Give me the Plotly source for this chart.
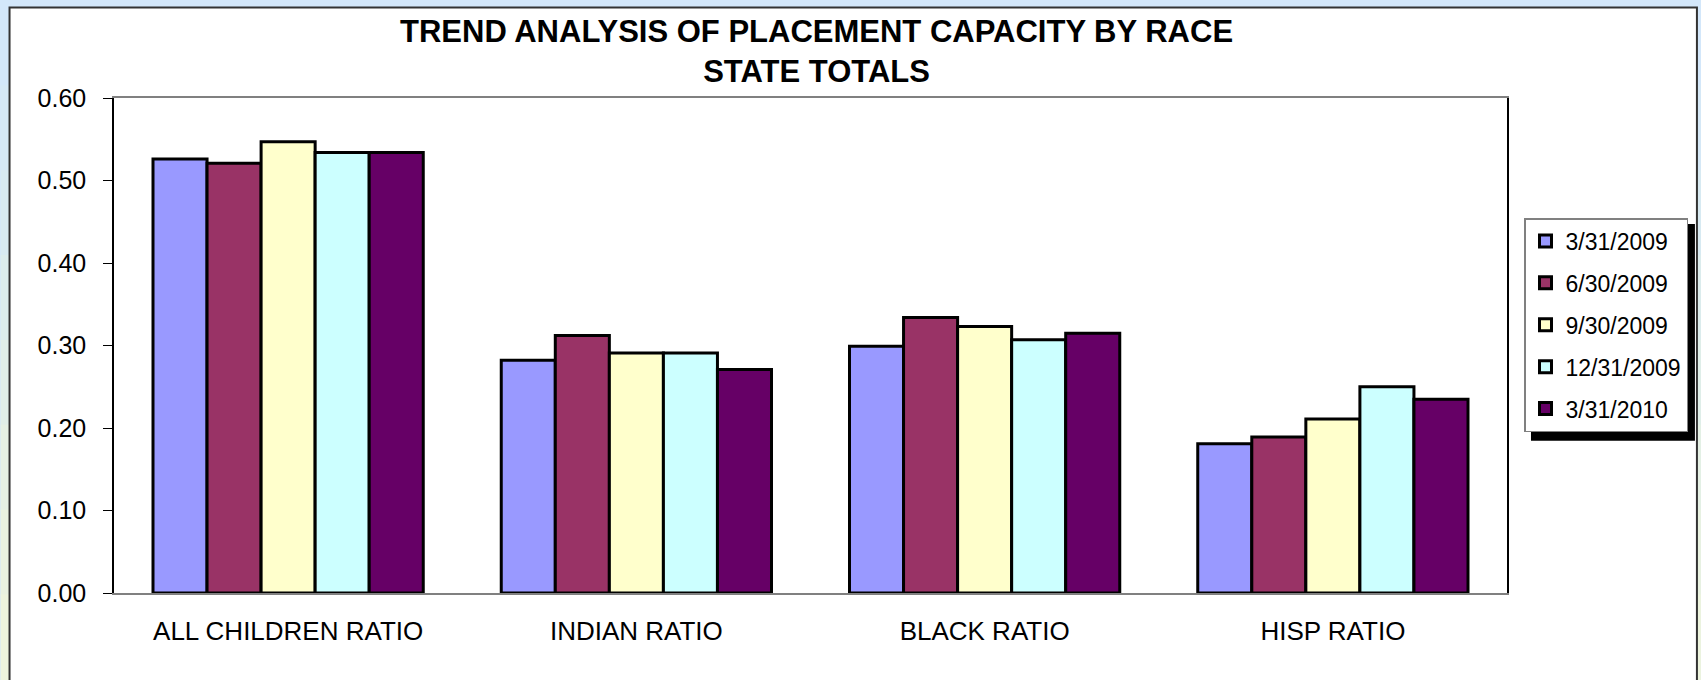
import plotly.graph_objects as go

categories = ["ALL CHILDREN RATIO", "INDIAN RATIO", "BLACK RATIO", "HISP RATIO"]
series_names = ["3/31/2009", "6/30/2009", "9/30/2009", "12/31/2009", "3/31/2010"]
s_2009_03 = [0.526, 0.282, 0.299, 0.181]
s_2009_06 = [0.521, 0.312, 0.334, 0.189]
s_2009_09 = [0.547, 0.291, 0.323, 0.211]
s_2009_12 = [0.534, 0.291, 0.307, 0.250]
s_2010_03 = [0.534, 0.271, 0.315, 0.235]
series_values = [s_2009_03, s_2009_06, s_2009_09, s_2009_12, s_2010_03]
colors = ["#9999FF", "#993366", "#FFFFCC", "#CCFFFF", "#660066"]
y_ticks = [0.0, 0.1, 0.2, 0.3, 0.4, 0.5, 0.6]
y_tick_labels = ["0.00", "0.10", "0.20", "0.30", "0.40", "0.50", "0.60"]
title_lines = ["TREND ANALYSIS OF PLACEMENT CAPACITY BY RACE", "STATE TOTALS"]

W, H = 1701, 680
PL, PR, PT, PB = 113.5, 1507, 97.7, 593.5


def px_x(x):
    return (x - PL) / (PR - PL)


def px_y(y):
    return (PB - y) / (PB - PT)


FONT = "Liberation Sans, Arial, sans-serif"

fig = go.Figure()
for name, vals, col in zip(series_names, series_values, colors):
    fig.add_trace(go.Bar(
        name=name, x=categories, y=vals, legendgroup=name,
        marker=dict(color=col, line=dict(color="#000000", width=3)),
    ))

shapes = []
# background gradient strips (outside the white panel)
band_cols = ["#d3e7fa", "#d5e8f6", "#d8eaf1", "#dcecec", "#e0eee8", "#e5f0e4", "#e9f2e0", "#edf4dd"]
n = len(band_cols)
for i, c in enumerate(band_cols):
    y0 = i * H / n
    y1 = (i + 1) * H / n + 1
    shapes.append(dict(type="rect", xref="paper", yref="paper", layer="below",
                       x0=px_x(0), x1=px_x(W), y0=px_y(y1), y1=px_y(y0),
                       fillcolor=c, line=dict(width=0)))
shapes.append(dict(type="rect", xref="paper", yref="paper", layer="below",
                   x0=px_x(0), x1=px_x(W), y0=px_y(8), y1=px_y(0),
                   fillcolor="#d3e7fa", line=dict(width=0)))
# white chart panel
shapes.append(dict(type="rect", xref="paper", yref="paper", layer="below",
                   x0=px_x(9), x1=px_x(1697), y0=px_y(690), y1=px_y(7),
                   fillcolor="#ffffff", line=dict(color="#333333", width=2)))
# legend shadow
shapes.append(dict(type="rect", xref="paper", yref="paper", layer="below",
                   x0=px_x(1531), x1=px_x(1695), y0=px_y(441), y1=px_y(224),
                   fillcolor="#000000", line=dict(width=0)))

annotations = [dict(
    text="<b>" + "<br>".join(title_lines) + "</b>",
    xref="paper", yref="paper", x=px_x(816), y=px_y(51),
    xanchor="center", yanchor="middle", showarrow=False,
    font=dict(size=31, family=FONT, color="#000000"),
)]

fig.update_layout(
    width=W, height=H,
    margin=dict(l=PL, r=W - PR, t=PT, b=H - PB, pad=0),
    paper_bgcolor="#d3e7fa",
    plot_bgcolor="#ffffff",
    barmode="group",
    bargap=0.224,
    bargroupgap=0,
    font=dict(family=FONT, color="#000000"),
    xaxis=dict(
        showline=True, linecolor="#808080", linewidth=1.5, mirror=True,
        ticks="", tickfont=dict(size=26, family=FONT, color="#000000"),
        showgrid=False, ticklabelstandoff=14,
    ),
    yaxis=dict(
        range=[0, 0.6], tickvals=y_ticks, ticktext=y_tick_labels,
        showline=True, linecolor="#000000", linewidth=1.5, mirror=True,
        ticks="outside", ticklen=9, tickcolor="#000000", tickwidth=1,
        tickfont=dict(size=25, family=FONT, color="#000000"),
        showgrid=False, zeroline=False, ticklabelstandoff=12,
    ),
    legend=dict(
        x=1524 / W, y=1 - 218 / H, xref="container", yref="container",
        xanchor="left", yanchor="top",
        bgcolor="#ffffff", bordercolor="#808080", borderwidth=1.5,
        font=dict(size=23, family=FONT, color="#000000"),
        traceorder="grouped", tracegroupgap=9, itemwidth=30,
    ),
    shapes=shapes,
    annotations=annotations,
)

fig.write_html("out.html")
